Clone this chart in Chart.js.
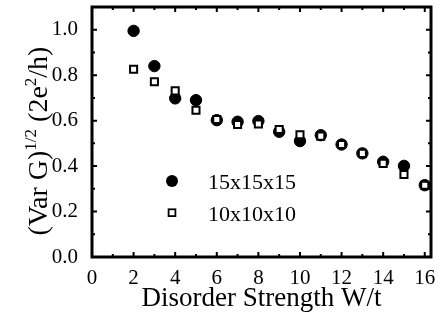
<!DOCTYPE html>
<html>
<head>
<meta charset="utf-8">
<script src="https://cdn.jsdelivr.net/npm/chart.js@4/dist/chart.umd.min.js"></script>
<style>
  body { margin: 0; background: #fff; }
</style>
</head>
<body>
<canvas id="chart" width="438" height="320"></canvas>
<script>
const ctx = document.getElementById('chart');

const disorder = [2, 3, 4, 5, 6, 7, 8, 9, 10, 11, 12, 13, 14, 15, 16];
const var15 = [0.995, 0.84, 0.698, 0.69, 0.602, 0.595, 0.598, 0.551, 0.51, 0.536, 0.495, 0.456, 0.419, 0.401, 0.316];
const var10 = [0.826, 0.771, 0.731, 0.646, 0.605, 0.583, 0.585, 0.561, 0.538, 0.532, 0.495, 0.456, 0.412, 0.363, 0.316];

const xTicks = [0, 2, 4, 6, 8, 10, 12, 14, 16];
const yTicks = [0.0, 0.2, 0.4, 0.6, 0.8, 1.0];

const serif = 'Liberation Serif';

const toPoints = (xs, ys) => xs.map((x, i) => ({ x: x, y: ys[i] }));

// frame with inward ticks on all four sides
const frame = {
    id: 'frame',
    afterDatasetsDraw(chart) {
        const c = chart.ctx;
        const a = chart.chartArea;
        const sx = chart.scales.x, sy = chart.scales.y;
        c.save();
        c.strokeStyle = '#000';
        c.lineWidth = 2;
        c.beginPath();
        for (let i = 1; i <= 16; i++) {
            const px = sx.getPixelForValue(i);
            const len = i % 2 === 0 ? 5 : 3;
            c.moveTo(px, a.bottom); c.lineTo(px, a.bottom - len);
            c.moveTo(px, a.top); c.lineTo(px, a.top + len);
        }
        for (let i = 1; i <= 10; i++) {
            const py = sy.getPixelForValue(i / 10);
            const len = i % 2 === 0 ? 5 : 3;
            c.moveTo(a.left, py); c.lineTo(a.left + len, py);
            c.moveTo(a.right, py); c.lineTo(a.right - len, py);
        }
        c.stroke();
        c.lineWidth = 3;
        c.strokeRect(a.left, a.top, a.right - a.left, a.bottom - a.top);
        c.restore();
    }
};

// y title with superscripts
const yTitle = {
    id: 'yTitle',
    afterDraw(chart) {
        const c = chart.ctx;
        const parts = [
            { t: '(Var G)', sup: false },
            { t: '1/2', sup: true },
            { t: ' (2e', sup: false },
            { t: '2', sup: true },
            { t: '/h)', sup: false }
        ];
        const big = '28px "' + serif + '"', small = '17px "' + serif + '"';
        c.save();
        let w = 0;
        parts.forEach(p => { c.font = p.sup ? small : big; w += c.measureText(p.t).width; });
        c.translate(47, 141);
        c.rotate(-Math.PI / 2);
        c.fillStyle = '#000';
        c.textBaseline = 'alphabetic';
        let x = -w / 2;
        parts.forEach(p => {
            c.font = p.sup ? small : big;
            c.fillText(p.t, x, p.sup ? -11 : 0);
            x += c.measureText(p.t).width;
        });
        c.restore();
    }
};

// legend inside the plot
const innerLegend = {
    id: 'innerLegend',
    afterDraw(chart) {
        const c = chart.ctx;
        const a = chart.chartArea;
        const mx = a.left + 80, tx = a.left + 116;
        const y1 = a.top + 174, y2 = a.top + 205.7;
        c.save();
        c.fillStyle = '#000';
        c.beginPath();
        c.arc(mx, y1, 6, 0, Math.PI * 2);
        c.fill();
        c.fillStyle = '#fff';
        c.strokeStyle = '#000';
        c.lineWidth = 1.8;
        c.fillRect(mx - 3.4, y2 - 3.4, 6.8, 6.8);
        c.strokeRect(mx - 3.4, y2 - 3.4, 6.8, 6.8);
        c.fillStyle = '#000';
        c.font = '22px "' + serif + '"';
        c.textBaseline = 'alphabetic';
        c.fillText(chart.data.datasets[1].label, tx, y1 + 8);
        c.fillText(chart.data.datasets[0].label, tx, y2 + 8);
        c.restore();
    }
};

const data = {
    datasets: [{
        label: '10x10x10',
        data: toPoints(disorder, var10),
        pointStyle: 'rect',
        pointRadius: 5,
        backgroundColor: '#fff',
        borderColor: '#000',
        borderWidth: 2
    }, {
        label: '15x15x15',
        data: toPoints(disorder, var15),
        pointStyle: 'circle',
        pointRadius: 5.7,
        backgroundColor: '#000',
        borderColor: '#000',
        borderWidth: 1
    }]
};

const noPad = s => { s.paddingTop = 0; s.paddingBottom = 0; s.paddingLeft = 0; s.paddingRight = 0; };

const config = {
    type: 'scatter',
    data,
    options: {
        responsive: false,
        animation: false,
        devicePixelRatio: 1,
        layout: { padding: { top: 6, right: 7, left: 0, bottom: 0 } },
        plugins: {
            legend: { display: false },
            tooltip: { enabled: false }
        },
        scales: {
            x: {
                type: 'linear',
                min: 0,
                max: 16.3,
                grid: { display: false },
                border: { display: false },
                afterBuildTicks: s => { s.ticks = xTicks.map(v => ({ value: v })); },
                afterFit: s => { s.height = 63; noPad(s); },
                ticks: {
                    color: '#000',
                    padding: 1,
                    maxRotation: 0,
                    font: { family: serif, size: 21 }
                },
                title: {
                    display: true,
                    text: 'Disorder Strength W/t',
                    color: '#000',
                    font: { family: serif, size: 27 },
                    padding: { top: 0, bottom: 5 }
                }
            },
            y: {
                min: 0,
                max: 1.1,
                grid: { display: false },
                border: { display: false },
                afterBuildTicks: s => { s.ticks = yTicks.map(v => ({ value: v })); },
                afterFit: s => { s.width = 92; noPad(s); },
                ticks: {
                    color: '#000',
                    padding: 6,
                    font: { family: serif, size: 21 },
                    callback: v => v.toFixed(1)
                }
            }
        }
    },
    plugins: [frame, yTitle, innerLegend]
};

new Chart(ctx, config);
</script>
</body>
</html>
